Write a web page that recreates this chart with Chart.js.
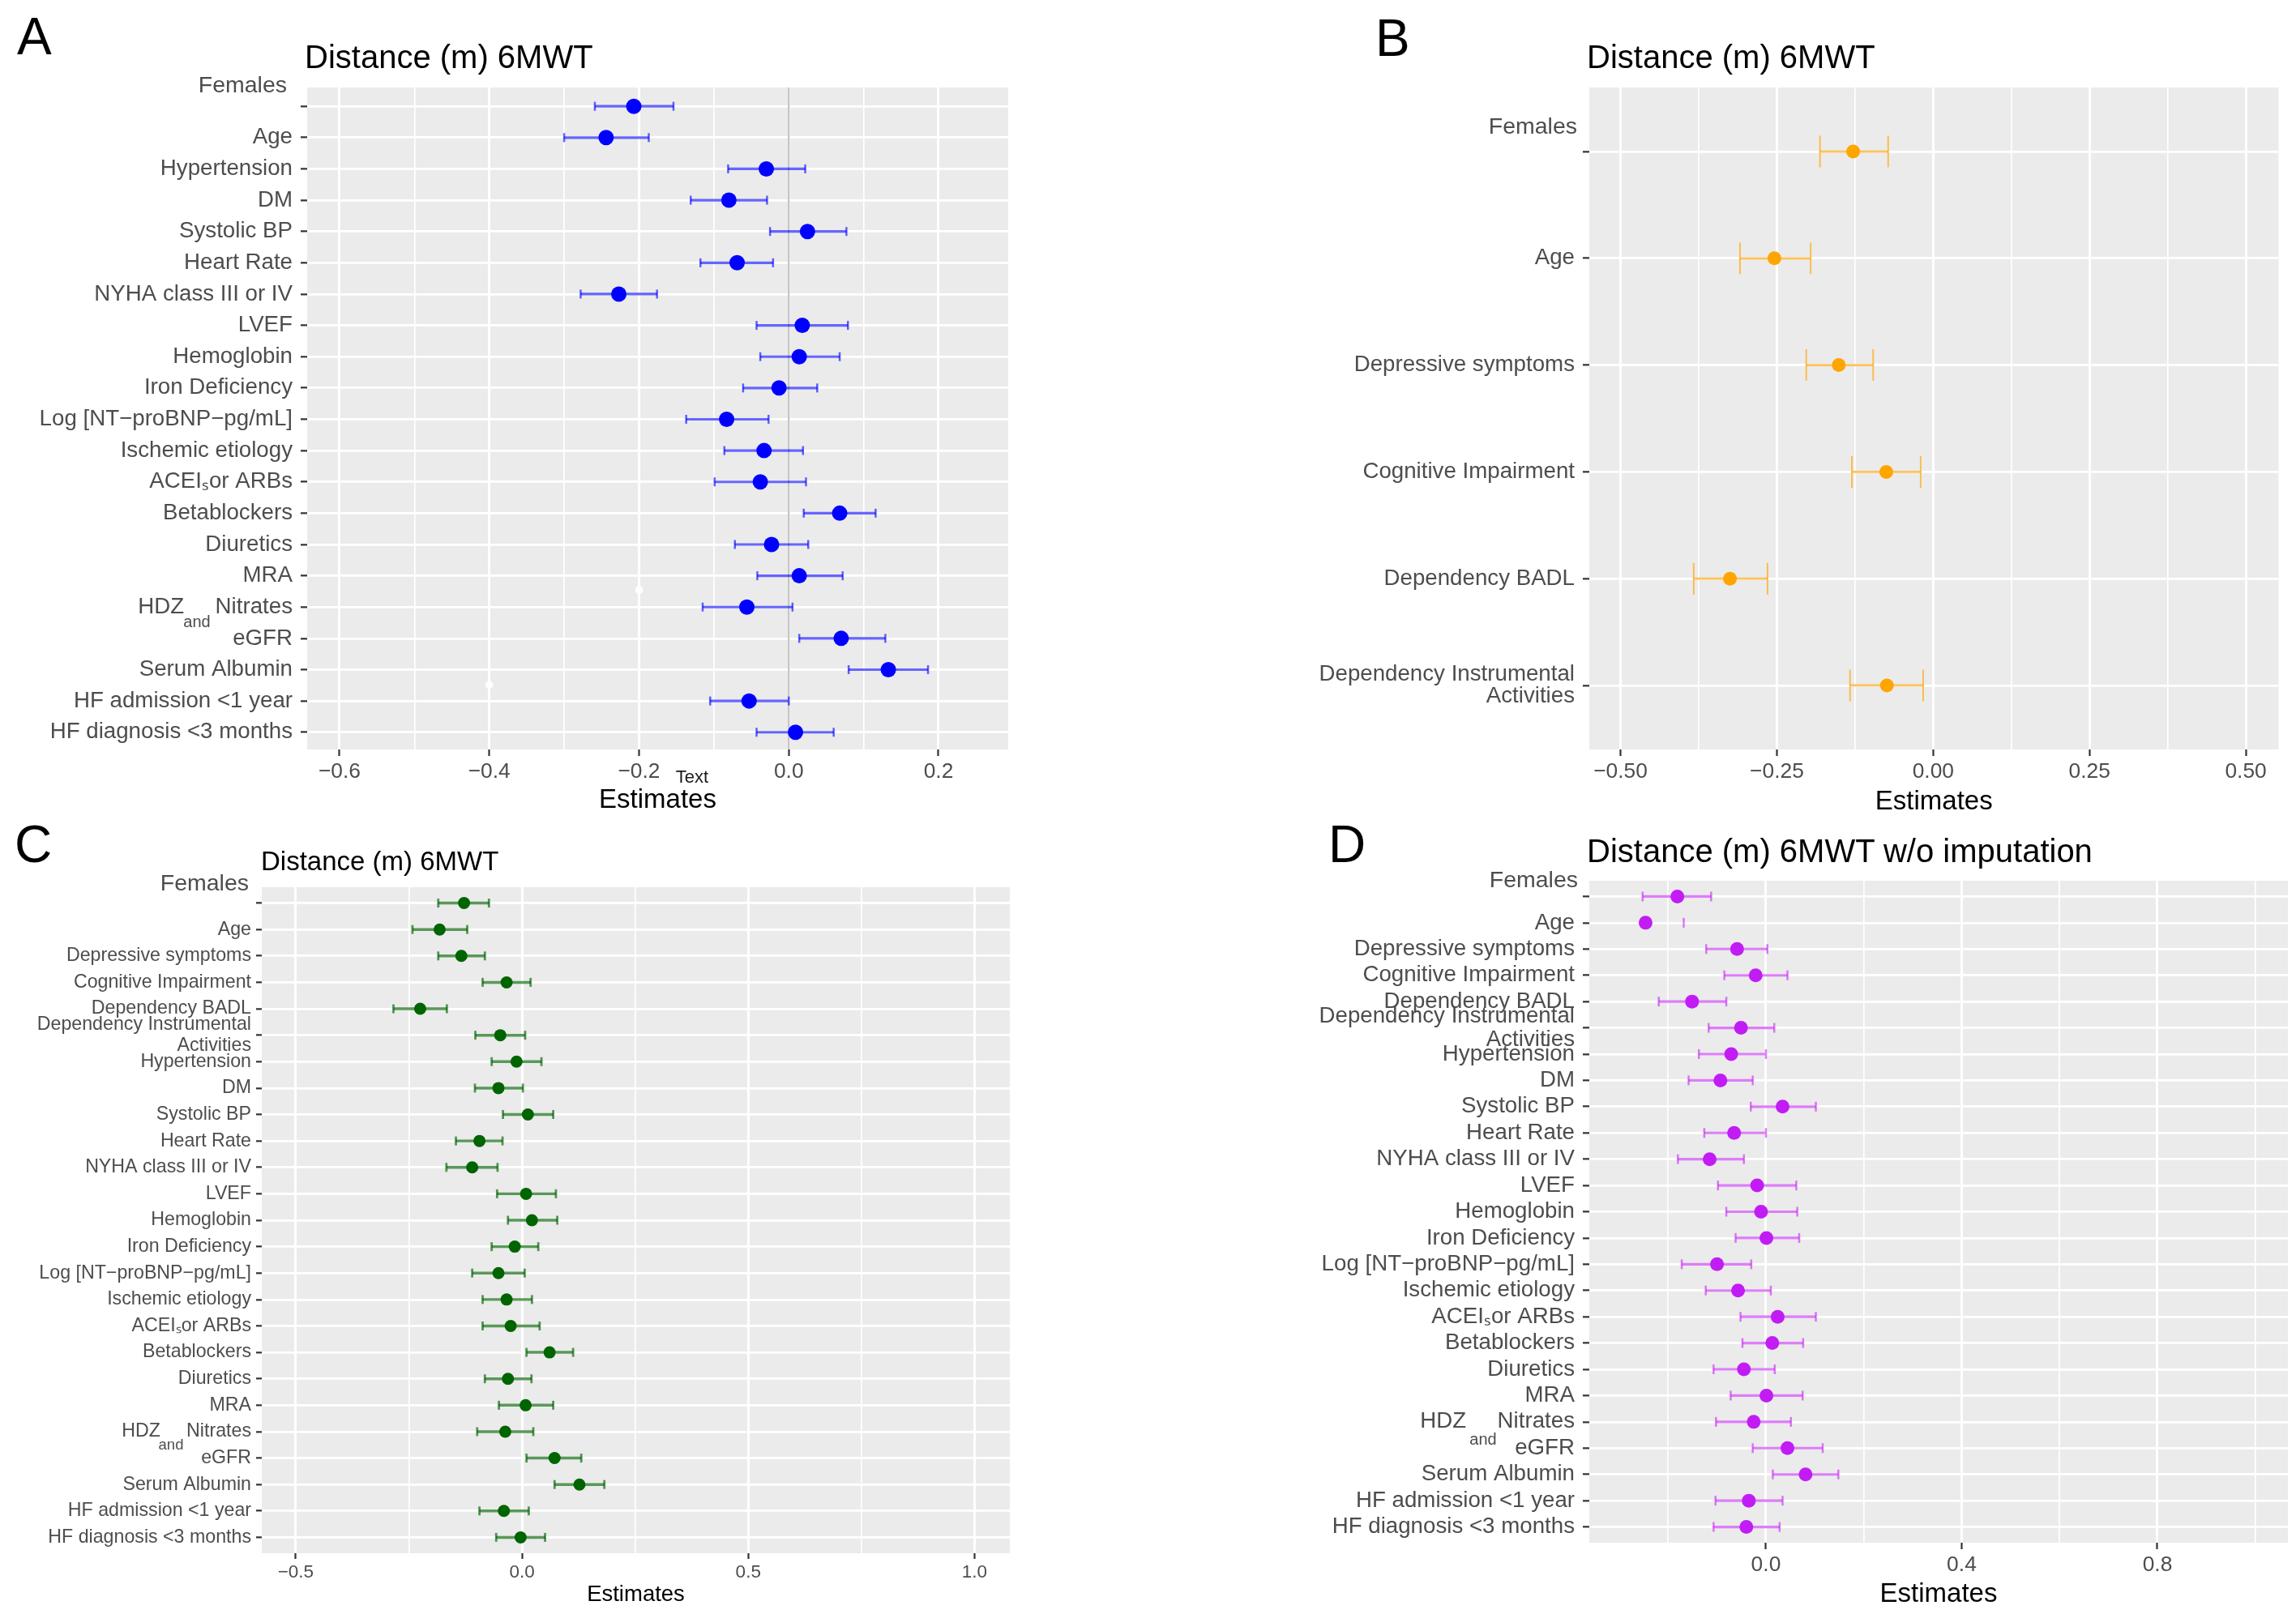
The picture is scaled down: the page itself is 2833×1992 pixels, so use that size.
<!DOCTYPE html>
<html>
<head>
<meta charset="utf-8">
<script src="https://cdn.jsdelivr.net/npm/chart.js@4.4.1/dist/chart.umd.min.js"></script>
<style>
  html, body { margin: 0; padding: 0; background: #fff; }
  body { position: relative; width: 2833px; height: 1992px; overflow: hidden;
         font-family: "Liberation Sans", Arial, Helvetica, sans-serif; }
  canvas { position: absolute; }
  .txt { position: absolute; line-height: 1; white-space: nowrap; color: #000; }
</style>
</head>
<body>
<canvas id="chartA" width="1270" height="990" style="left:0;top:40px;width:1270px;height:990px"></canvas>
<canvas id="chartB" width="1333" height="990" style="left:1500px;top:40px;width:1333px;height:990px"></canvas>
<canvas id="chartC" width="1270" height="962" style="left:0;top:1030px;width:1270px;height:962px"></canvas>
<canvas id="chartD" width="1333" height="962" style="left:1500px;top:1030px;width:1333px;height:962px"></canvas>

<div class="txt" style="left:21px;top:13px;font-size:64px">A</div>
<div class="txt" style="left:1697px;top:15px;font-size:64px">B</div>
<div class="txt" style="left:18px;top:1010px;font-size:64px">C</div>
<div class="txt" style="left:1639px;top:1010px;font-size:64px">D</div>

<div class="txt" style="left:376px;top:50px;font-size:40px">Distance (m) 6MWT</div>
<div class="txt" style="left:1958px;top:50px;font-size:40px">Distance (m) 6MWT</div>
<div class="txt" style="left:322px;top:1046px;font-size:33px">Distance (m) 6MWT</div>
<div class="txt" style="left:1958px;top:1030px;font-size:40px">Distance (m) 6MWT w/o imputation</div>

<script>
const FONT = "'Liberation Sans', Arial, Helvetica, sans-serif";

// ---- Panel A ----
const labelsA = ['', 'Age', 'Hypertension', 'DM', 'Systolic BP', 'Heart Rate', 'NYHA class III or IV',
  'LVEF', 'Hemoglobin', 'Iron Deficiency', 'Log [NT−proBNP−pg/mL]', 'Ischemic etiology',
  'ACEIₛor ARBs', 'Betablockers', 'Diuretics', 'MRA', 'HDZ     Nitrates', 'eGFR',
  'Serum Albumin', 'HF admission <1 year', 'HF diagnosis <3 months'];
const estA = [-0.207, -0.244, -0.030, -0.080, 0.025, -0.069, -0.227, 0.018, 0.014, -0.013, -0.083,
  -0.033, -0.038, 0.068, -0.023, 0.014, -0.056, 0.070, 0.133, -0.053, 0.009];
const lowA = [-0.259, -0.300, -0.081, -0.131, -0.025, -0.118, -0.278, -0.043, -0.038, -0.061, -0.137,
  -0.086, -0.099, 0.020, -0.072, -0.042, -0.115, 0.014, 0.080, -0.105, -0.043];
const highA = [-0.154, -0.187, 0.022, -0.029, 0.077, -0.021, -0.176, 0.079, 0.068, 0.038, -0.027,
  0.019, 0.023, 0.116, 0.026, 0.072, 0.005, 0.129, 0.186, 0.000, 0.060];
const xMajorA = [-0.6, -0.4, -0.2, 0, 0.2];
const xTextA = ['−0.6', '−0.4', '−0.2', '0.0', '0.2'];
const xMinorA = [-0.5, -0.3, -0.1, 0.1];
// faint white specks left in the picture
const strayXA = [-0.2, -0.4];
const strayRowA = [15.45, 18.49];

// ---- Panel B ----
const labelsB = ['', 'Age', 'Depressive symptoms', 'Cognitive Impairment', 'Dependency BADL',
  ['Dependency Instrumental', 'Activities']];
const estB = [-0.128, -0.254, -0.151, -0.075, -0.325, -0.074];
const lowB = [-0.181, -0.309, -0.203, -0.130, -0.383, -0.133];
const highB = [-0.072, -0.196, -0.096, -0.020, -0.265, -0.016];
const xMajorB = [-0.5, -0.25, 0, 0.25, 0.5];
const xTextB = ['−0.50', '−0.25', '0.00', '0.25', '0.50'];
const xMinorB = [-0.375, -0.125, 0.125, 0.375];

// ---- Panels C and D share the covariates ----
const labelsCD = ['', 'Age', 'Depressive symptoms', 'Cognitive Impairment', 'Dependency BADL',
  ['Dependency Instrumental', 'Activities'], 'Hypertension', 'DM', 'Systolic BP', 'Heart Rate',
  'NYHA class III or IV', 'LVEF', 'Hemoglobin', 'Iron Deficiency', 'Log [NT−proBNP−pg/mL]',
  'Ischemic etiology', 'ACEIₛor ARBs', 'Betablockers', 'Diuretics', 'MRA', 'HDZ     Nitrates',
  'eGFR', 'Serum Albumin', 'HF admission <1 year', 'HF diagnosis <3 months'];

const estC = [-0.128, -0.182, -0.134, -0.034, -0.225, -0.048, -0.012, -0.052, 0.013, -0.094, -0.110,
  0.009, 0.022, -0.016, -0.052, -0.034, -0.025, 0.061, -0.031, 0.008, -0.037, 0.072, 0.127, -0.040, -0.003];
const lowC = [-0.185, -0.242, -0.185, -0.087, -0.284, -0.103, -0.067, -0.104, -0.042, -0.146, -0.167,
  -0.055, -0.031, -0.067, -0.110, -0.087, -0.087, 0.010, -0.082, -0.051, -0.099, 0.010, 0.072, -0.094, -0.057];
const highC = [-0.073, -0.121, -0.082, 0.019, -0.166, 0.007, 0.043, 0.002, 0.069, -0.043, -0.054,
  0.075, 0.078, 0.036, 0.006, 0.022, 0.039, 0.113, 0.021, 0.069, 0.025, 0.131, 0.182, 0.015, 0.051];
const xMajorC = [-0.5, 0, 0.5, 1.0];
const xTextC = ['−0.5', '0.0', '0.5', '1.0'];
const xMinorC = [-0.25, 0.25, 0.75];

const estD = [-0.181, -0.246, -0.059, -0.021, -0.151, -0.051, -0.071, -0.093, 0.034, -0.065, -0.115,
  -0.018, -0.010, 0.001, -0.100, -0.057, 0.024, 0.013, -0.045, 0.001, -0.025, 0.044, 0.081, -0.035, -0.040];
const lowD = [-0.252, null, -0.122, -0.085, -0.219, -0.117, -0.137, -0.158, -0.031, -0.126, -0.180,
  -0.098, -0.081, -0.062, -0.172, -0.123, -0.052, -0.048, -0.107, -0.072, -0.102, -0.027, 0.014, -0.103, -0.107];
const highD = [-0.112, -0.168, 0.003, 0.044, -0.081, 0.017, 0.000, -0.027, 0.102, 0.000, -0.045,
  0.062, 0.064, 0.068, -0.030, 0.010, 0.102, 0.076, 0.018, 0.075, 0.051, 0.116, 0.148, 0.034, 0.028];
const xMajorD = [0, 0.4, 0.8];
const xTextD = ['0.0', '0.4', '0.8'];
const xMinorD = [-0.2, 0.2, 0.6, 1.0];

// grey panel + the loose bits of text pasted onto the figure
const extras = {
  id: 'extras',
  beforeDraw(chart) {
    const { ctx, chartArea: a } = chart;
    ctx.save();
    ctx.fillStyle = '#EBEBEB';
    ctx.fillRect(a.left, a.top, a.right - a.left, a.bottom - a.top);
    ctx.restore();
  },
  afterDraw(chart, args, o) {
    const { ctx, chartArea: a } = chart;
    const y = chart.scales.y;
    ctx.save();
    ctx.fillStyle = '#4D4D4D';
    ctx.textBaseline = 'alphabetic';
    ctx.textAlign = 'right';
    ctx.font = o.femalesSize + 'px ' + FONT;
    ctx.fillText('Females', a.left - o.femalesDx, y.getPixelForValue(0) + o.femalesDy);
    if (o.andRow >= 0) {
      ctx.textAlign = 'center';
      ctx.font = o.andSize + 'px ' + FONT;
      ctx.fillText('and', a.left - o.andDx, y.getPixelForValue(o.andRow) + o.andDy);
    }
    if (o.noteSize > 0) {
      ctx.fillStyle = '#1A1A1A';
      ctx.textAlign = 'center';
      ctx.font = o.noteSize + 'px ' + FONT;
      ctx.fillText('Text', a.left + o.noteDx, a.bottom + o.noteDy);
    }
    ctx.restore();
  }
};

function forest(id, p) {
  const n = p.labels.length;
  const yMin = -0.6, yMax = n - 1 + p.padRows;

  const points = p.est.map((v, i) => ({ x: v, y: i }));
  const caps = [];
  p.low.forEach((v, i) => { if (v !== null) caps.push({ x: v, y: i }); });
  p.high.forEach((v, i) => { if (v !== null) caps.push({ x: v, y: i }); });
  const bars = [];
  p.low.forEach((v, i) => {
    if (v !== null && p.high[i] !== null) bars.push({ x: [v, p.high[i]], y: i });
  });

  const datasets = [
    { type: 'scatter', data: points, pointRadius: p.r, pointHoverRadius: p.r,
      pointBackgroundColor: p.color, pointBorderWidth: 0 },
    { type: 'scatter', data: caps, pointStyle: 'line', pointRotation: 90,
      pointRadius: p.cap, pointHoverRadius: p.cap, pointBorderColor: p.barColor,
      pointBackgroundColor: p.barColor, pointBorderWidth: p.lw },
    { type: 'bar', indexAxis: 'y', data: bars, backgroundColor: p.barColor,
      borderWidth: 0, barThickness: p.lw }
  ];
  if (p.zeroLine) {
    datasets.push({ type: 'line', data: [{ x: 0, y: yMin }, { x: 0, y: yMax }],
      borderColor: '#BDBDBD', borderWidth: 2, pointRadius: 0 });
  }
  if (p.strayX) {
    datasets.push({ type: 'scatter', data: p.strayX.map((v, i) => ({ x: v, y: p.strayRow[i] })),
      pointRadius: 5, pointBackgroundColor: 'rgba(255,255,255,0.9)', pointBorderWidth: 0 });
  }

  const xTicks = p.xMajor.map((v, k) => ({ value: v, isMajor: true, text: p.xText[k] }))
    .concat(p.xMinor.map(v => ({ value: v, isMajor: false, text: '' })))
    .sort((a, b) => a.value - b.value);

  return new Chart(document.getElementById(id), {
    type: 'scatter',
    data: { datasets },
    options: {
      responsive: false,
      animation: false,
      devicePixelRatio: 1,
      events: [],
      layout: { padding: { top: p.padTop, right: p.padRight, bottom: 0, left: 0 } },
      plugins: {
        legend: { display: false },
        tooltip: { enabled: false },
        extras: p.extras
      },
      scales: {
        x: {
          type: 'linear',
          min: p.xMin,
          max: p.xMax,
          afterBuildTicks: s => { s.ticks = xTicks.map(t => Object.assign({}, t)); },
          afterFit: s => { s.height = p.xHeight; },
          ticks: {
            autoSkip: false,
            maxRotation: 0,
            padding: p.xTickPad,
            color: '#4D4D4D',
            font: { family: FONT, size: p.tickSize },
            callback: (v, i, ticks) => ticks[i].text
          },
          grid: {
            color: '#FFFFFF',
            lineWidth: c => (c.tick && c.tick.isMajor) ? 3 : 1.7,
            tickLength: p.tickLen,
            tickWidth: 2.2,
            tickColor: c => (c.tick && c.tick.isMajor) ? '#333333' : 'rgba(0,0,0,0)'
          },
          border: { display: false },
          title: {
            display: true,
            text: 'Estimates',
            color: '#000000',
            font: { family: FONT, size: p.axisTitleSize },
            padding: { top: 0, bottom: p.titlePad }
          }
        },
        y: {
          type: 'linear',
          reverse: true,
          offset: false,
          min: yMin,
          max: yMax,
          afterBuildTicks: s => { s.ticks = p.labels.map((_, i) => ({ value: i })); },
          afterFit: s => { s.width = p.yWidth; },
          ticks: {
            autoSkip: false,
            padding: p.yTickPad,
            color: '#4D4D4D',
            font: { family: FONT, size: p.labelSize, lineHeight: p.labelLine },
            callback: v => p.labels[v]
          },
          grid: {
            color: '#FFFFFF',
            lineWidth: 2.7,
            offset: false,
            tickLength: p.tickLen,
            tickWidth: 2.2,
            tickColor: '#333333'
          },
          border: { display: false }
        }
      }
    },
    plugins: [extras]
  });
}

forest('chartA', {
  labels: labelsA, est: estA, low: lowA, high: highA,
  xMajor: xMajorA, xText: xTextA, xMinor: xMinorA, xMin: -0.6433, xMax: 0.2931,
  color: '#0000FF', barColor: 'rgba(0,0,255,0.6)', r: 9.5, cap: 5.5, lw: 2.5,
  zeroLine: true, strayX: strayXA, strayRow: strayRowA,
  padRows: 0.55, padTop: 68, padRight: 26, yWidth: 379, xHeight: 105,
  tickLen: 8, yTickPad: 10, xTickPad: 4, tickSize: 26.4, labelSize: 27.7, labelLine: 1.0,
  axisTitleSize: 33, titlePad: 22,
  extras: { femalesSize: 28.5, femalesDx: 25, femalesDy: -17, andRow: 16, andDx: 136, andDy: 25,
            andSize: 20, noteSize: 22, noteDx: 475, noteDy: 41 }
});

forest('chartB', {
  labels: labelsB, est: estB, low: lowB, high: highB,
  xMajor: xMajorB, xText: xTextB, xMinor: xMinorB, xMin: -0.55, xMax: 0.5524,
  color: '#FFA500', barColor: 'rgba(255,165,0,0.65)', r: 8.5, cap: 19.5, lw: 2,
  zeroLine: false,
  padRows: 0.6, padTop: 68, padRight: 10, yWidth: 461, xHeight: 105,
  tickLen: 8, yTickPad: 10, xTickPad: 4, tickSize: 26.4, labelSize: 27.7, labelLine: 1.0,
  axisTitleSize: 33, titlePad: 20,
  extras: { femalesSize: 28.5, femalesDx: 15, femalesDy: -22, andRow: -1, andDx: 0, andDy: 0,
            andSize: 20, noteSize: 0, noteDx: 0, noteDy: 0 }
});

forest('chartC', {
  labels: labelsCD, est: estC, low: lowC, high: highC,
  xMajor: xMajorC, xText: xTextC, xMinor: xMinorC, xMin: -0.575, xMax: 1.078,
  color: '#006400', barColor: 'rgba(0,100,0,0.65)', r: 7.5, cap: 5.5, lw: 2.8,
  zeroLine: false,
  padRows: 0.6, padTop: 65, padRight: 24, yWidth: 323, xHeight: 75,
  tickLen: 7, yTickPad: 6, xTickPad: 3, tickSize: 22.5, labelSize: 23.2, labelLine: 1.1,
  axisTitleSize: 27.5, titlePad: 7,
  extras: { femalesSize: 28.5, femalesDx: 16, femalesDy: -16, andRow: 20, andDx: 112, andDy: 22,
            andSize: 18.5, noteSize: 0, noteDx: 0, noteDy: 0 }
});

forest('chartD', {
  labels: labelsCD, est: estD, low: lowD, high: highD,
  xMajor: xMajorD, xText: xTextD, xMinor: xMinorD, xMin: -0.361, xMax: 1.0667,
  color: '#C21CF5', barColor: 'rgba(200,40,245,0.6)', r: 8.5, cap: 6, lw: 2.5,
  zeroLine: false,
  padRows: 0.6, padTop: 57, padRight: 10, yWidth: 461, xHeight: 88,
  tickLen: 8, yTickPad: 10, xTickPad: 4, tickSize: 26.4, labelSize: 27.7, labelLine: 1.05,
  axisTitleSize: 33, titlePad: 4,
  extras: { femalesSize: 28.5, femalesDx: 14, femalesDy: -11, andRow: 20, andDx: 131, andDy: 28,
            andSize: 20, noteSize: 0, noteDx: 0, noteDy: 0 }
});
</script>
</body>
</html>
